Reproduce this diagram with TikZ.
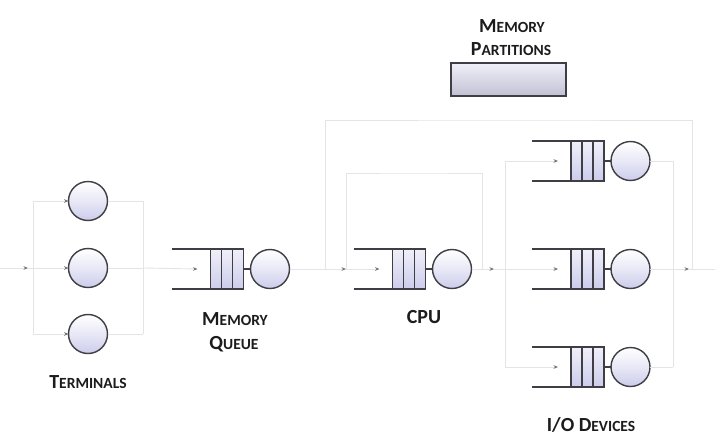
\documentclass[tikz,border=0pt]{standalone}
\usepackage{fontspec}
\setmainfont{Carlito}
\usetikzlibrary{arrows.meta,positioning,calc}

\definecolor{lav}{RGB}{204,204,236}
\definecolor{edge}{RGB}{62,62,68}
\definecolor{wire}{RGB}{228,228,232}
\definecolor{labelink}{RGB}{28,28,28}

% fake small caps: large initial, smaller remainder
\newcommand\capL[1]{{\fontsize{20}{22}\selectfont #1}}
\newcommand\capS[1]{{\fontsize{15.5}{17}\selectfont #1}}

\tikzset{
  server/.style={circle, draw=edge, line width=1.4, minimum size=39,
    inner sep=0, outer sep=0, top color=white, bottom color=lav, middle color=lav!45},
  qbox/.style={rectangle, draw=edge, line width=1.5, minimum width=33,
    minimum height=40, inner sep=0, outer sep=0, top color=lav!30, bottom color=lav},
  qline/.style={draw=edge, line width=1.5},
  flow/.style={draw=wire, line width=0.9},
  arr/.style={-{Stealth[length=4.5,width=3.6,color=black!55]}},
  caption/.style={font=\bfseries, text=labelink, inner sep=0, anchor=base},
  partition/.style={rectangle, draw=edge, line width=1.6, minimum width=115,
    minimum height=33, inner sep=0, top color=lav!30, bottom color=lav!70!gray!85},
}

% a queueing station: box of three cells, open tail, server circle
\newcommand\station[3]{%
  \node[qbox] (#1-box) at (#2,#3) {};
  \node[server, right=7pt of #1-box] (#1) {};
  \draw[qline] (#1-box.north west) -- ++(-39,0);
  \draw[qline] (#1-box.south west) -- ++(-39,0);
  \draw[qline] ($(#1-box.north west)!1/3!(#1-box.north east)$) -- ($(#1-box.south west)!1/3!(#1-box.south east)$);
  \draw[qline] ($(#1-box.north west)!2/3!(#1-box.north east)$) -- ($(#1-box.south west)!2/3!(#1-box.south east)$);
  \draw[qline] (#1-box.east) -- (#1.west);
  \coordinate (#1-in) at ($(#1-box.west)+(-13,0)$);
}

\begin{document}
\begin{tikzpicture}[x=1pt, y=-1pt]
\fill[white] (0,0) rectangle (723,442);
\useasboundingbox (0,0) rectangle (723,442);

% ---- stations ----
\node[server] (t1) at (88,201) {};
\node[server] (t2) at (88,268) {};
\node[server] (t3) at (88,334) {};
\station{mq}{227}{269}
\station{cpu}{409}{269}
\station{io1}{587.5}{161}
\station{io2}{587.5}{269}
\station{io3}{587.5}{367}

\node[partition] (mp) at (508.5,79.5) {};

% ---- junctions ----
\coordinate (in0) at (0,268);
\coordinate (inarr) at (28,268);
\coordinate (tsplit) at (33,268);
\coordinate (tmerge) at (143,268);
\coordinate (j1) at (325,269);
\coordinate (j2) at (346,269);
\coordinate (j3) at (482,269);
\coordinate (cpuarr) at (494,269);
\coordinate (iosplit) at (505,269);
\coordinate (iomerge) at (673,269);
\coordinate (ioarr) at (689,269);
\coordinate (j6) at (692,269);
\coordinate (out0) at (715,269);
\coordinate (smalltop) at (414,173);
\coordinate (bigtop) at (508,120);

% ---- terminals ----
\draw[flow,arr] (in0) -- (inarr);
\draw[flow] (inarr) -- (tsplit);
\draw[flow] (tsplit |- t1) -- (tsplit |- t3);
\foreach \t in {t1,t2,t3}{
  \draw[flow,arr] (tsplit |- \t) -- (\t.west);
  \draw[flow] (\t.east) -- (tmerge |- \t);
}
\draw[flow] (tmerge |- t1) -- (tmerge |- t3);

% ---- memory queue to CPU ----
\draw[flow,arr] (tmerge) -- (mq-in);
\draw[flow,arr] (mq.east) -- (j2);
\draw[flow,arr] (j2) -- (cpu-in);
\draw[flow,arr] (cpu.east) -- (cpuarr);
\draw[flow] (cpuarr) -- (iosplit);

% CPU feedback loop
\draw[flow] (j3) |- (smalltop) -| (j2);

% ---- I/O devices ----
\draw[flow] (iosplit |- io1) -- (iosplit |- io3);
\draw[flow] (iomerge |- io1) -- (iomerge |- io3);
\foreach \d in {io1,io2,io3}{
  \draw[flow,arr] (iosplit |- \d) -- (\d-in);
  \draw[flow] (\d.east) -- (iomerge |- \d);
}
\draw[flow,arr] (iomerge) -- (ioarr);
\draw[flow] (ioarr) -- (out0);

% return loop from I/O back to CPU
\draw[flow] (j6) |- (bigtop) -| (j1);

% ---- labels ----
\node[caption] (lmp1) at (512,32) {\capL{M}\capS{EMORY}};
\node[caption] (lmp2) at (511,55) {\capL{P}\capS{ARTITIONS}};
\node[caption] (lmq1) at (235,325) {\capL{M}\capS{EMORY}};
\node[caption] (lmq2) at (234,349) {\capL{Q}\capS{UEUE}};
\node[caption] (lcpu) at (424,323) {\capL{CPU}};
\node[caption] (lterm) at (88,388) {\capL{T}\capS{ERMINALS}};
\node[caption] (lio) at (591,431) {\capL{I/O D}\capS{EVICES}};
\end{tikzpicture}
\end{document}
